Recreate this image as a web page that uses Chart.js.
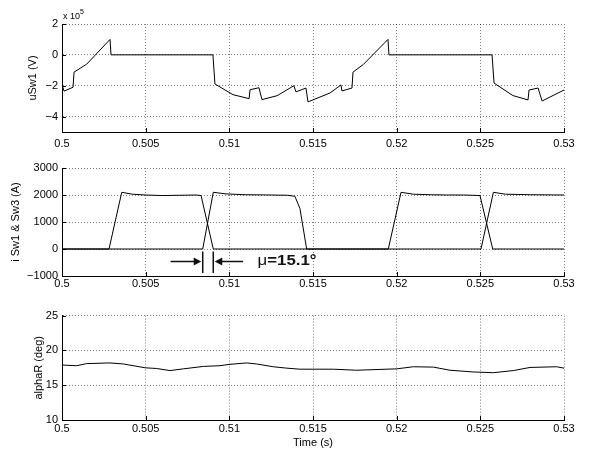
<!DOCTYPE html>
<html>
<head>
<meta charset="utf-8">
<script src="https://cdn.jsdelivr.net/npm/chart.js@4.4.1/dist/chart.umd.min.js"></script>
<style>
  body { margin: 0; background: #fff; }
  #wrap { position: relative; width: 602px; height: 460px; }
  canvas { position: absolute; left: 0; }
</style>
</head>
<body>
<div id="wrap">
  <canvas id="voltChart" width="602" height="155" style="top:0px"></canvas>
  <canvas id="currentChart" width="602" height="150" style="top:155px"></canvas>
  <canvas id="alphaChart" width="602" height="155" style="top:305px"></canvas>
</div>
<script>
// time axis (s)
var timeTicks = [0.5, 0.505, 0.51, 0.515, 0.52, 0.525, 0.53];
var timeTickLabels = ["0.5", "0.505", "0.51", "0.515", "0.52", "0.525", "0.53"];

// panel 1: uSw1 in units of 1e5 V
var tU = [0.5, 0.50012, 0.50066, 0.50072, 0.50148, 0.50287, 0.50293, 0.50902, 0.50914, 0.51022,
          0.51118, 0.51124, 0.51177, 0.51195, 0.51285, 0.51386, 0.51398, 0.51458, 0.51470, 0.51602,
          0.51667, 0.51673, 0.51733, 0.51739, 0.51801, 0.51948, 0.51954, 0.52570, 0.52582, 0.52695,
          0.52785, 0.52791, 0.52845, 0.52869, 0.53];
var uSw1 = [-1.9, -2.35, -2.1, -1.12, -0.6, 1.0, 0, 0, -1.89, -2.58,
            -2.84, -2.26, -2.13, -2.9, -2.65, -2.0, -2.4, -2.15, -3.05, -2.47,
            -1.95, -2.34, -2.15, -1.12, -0.62, 1.0, 0, 0, -1.83, -2.64,
            -2.92, -2.28, -2.15, -2.99, -2.28];
var uTicks = [-4, -2, 0, 2];
var uTickLabels = ["\u22124", "\u22122", "0", "2"];

// panel 2: switch currents (A)
var tSw1 = [0.5, 0.50281, 0.50357, 0.5042, 0.5050, 0.5060, 0.5070, 0.5080, 0.50831, 0.50904,
            0.51950, 0.52026, 0.5210, 0.5220, 0.5230, 0.5240, 0.52498, 0.52574, 0.53];
var iSw1 = [0, 0, 2100, 2030, 2000, 1980, 1990, 2000, 1980, 0,
            0, 2100, 2030, 2010, 2000, 2000, 1980, 0, 0];
var tSw3 = [0.5, 0.50841, 0.50904, 0.5098, 0.5110, 0.5125, 0.5135, 0.51392, 0.51422, 0.51462,
            0.52504, 0.52578, 0.5265, 0.5280, 0.53];
var iSw3 = [0, 0, 2100, 2040, 2010, 2000, 1990, 1950, 1500, 0,
            0, 2100, 2030, 2010, 2000];
var iTicks = [-1000, 0, 1000, 2000, 3000];
var iTickLabels = ["\u22121000", "0", "1000", "2000", "3000"];

// overlap (commutation) marker
var overlapStart = 0.50841;
var overlapEnd = 0.50904;
var muText = "15.1\u00b0";

// panel 3: alphaR (deg)
var tA = [0.5, 0.50088, 0.50147, 0.50287, 0.50367, 0.50498, 0.50566, 0.50645, 0.50725, 0.50845,
          0.50944, 0.51004, 0.51104, 0.51163, 0.51263, 0.51343, 0.51422, 0.51621, 0.51761, 0.52000,
          0.52100, 0.52219, 0.52319, 0.52458, 0.52578, 0.52697, 0.52797, 0.52956, 0.53];
var alphaR = [17.9, 17.8, 18.1, 18.2, 18.05, 17.5, 17.4, 17.1, 17.35, 17.7,
              17.8, 18.0, 18.2, 18.05, 17.65, 17.45, 17.3, 17.3, 17.15, 17.35,
              17.65, 17.6, 17.15, 16.9, 16.8, 17.1, 17.55, 17.65, 17.45];
var aTicks = [10, 15, 20, 25];
var aTickLabels = ["10", "15", "20", "25"];

var FONT = "'Liberation Sans', Arial, Helvetica, sans-serif";

function points(xs, ys) {
    return xs.map(function (x, i) { return { x: x, y: ys[i] }; });
}

function lineSet(xs, ys) {
    return {
        data: points(xs, ys),
        borderColor: "#000",
        borderWidth: 1,
        pointRadius: 0,
        tension: 0,
        fill: false
    };
}

// MATLAB style inward tick marks
var inwardTicks = {
    id: 'inwardTicks',
    afterDraw: function (chart) {
        var ctx = chart.ctx, a = chart.chartArea;
        var xs = chart.scales.x, ys = chart.scales.y;
        ctx.save();
        ctx.strokeStyle = "#000";
        ctx.lineWidth = 1;
        ctx.beginPath();
        xs.ticks.forEach(function (t) {
            var px = Math.round(xs.getPixelForValue(t.value)) + 0.5;
            ctx.moveTo(px, a.bottom);
            ctx.lineTo(px, a.bottom - 4);
        });
        ys.ticks.forEach(function (t) {
            var py = Math.round(ys.getPixelForValue(t.value)) + 0.5;
            ctx.moveTo(a.left, py);
            ctx.lineTo(a.left + 4, py);
        });
        ctx.stroke();
        ctx.restore();
    }
};

var exponentLabel = {
    id: 'exponentLabel',
    afterDraw: function (chart) {
        var ctx = chart.ctx, a = chart.chartArea;
        ctx.save();
        ctx.fillStyle = "#000";
        ctx.textBaseline = "alphabetic";
        ctx.font = "9px " + FONT;
        ctx.fillText("x 10", a.left + 1, a.top - 5);
        var w = ctx.measureText("x 10").width;
        ctx.font = "7px " + FONT;
        ctx.fillText("5", a.left + 1 + w, a.top - 10);
        ctx.restore();
    }
};

var overlapMarker = {
    id: 'overlapMarker',
    afterDatasetsDraw: function (chart) {
        var ctx = chart.ctx;
        var xs = chart.scales.x, ys = chart.scales.y;
        var x1 = xs.getPixelForValue(overlapStart);
        var x2 = xs.getPixelForValue(overlapEnd);
        var yTop = ys.getPixelForValue(-90);
        var yBot = ys.getPixelForValue(-890);
        var yMid = ys.getPixelForValue(-460);
        var leftFrom = xs.getPixelForValue(0.50649);
        var rightFrom = xs.getPixelForValue(0.51082);
        ctx.save();
        ctx.strokeStyle = "#111";
        ctx.fillStyle = "#111";
        ctx.lineWidth = 1.5;
        ctx.beginPath();
        ctx.moveTo(x1, yTop); ctx.lineTo(x1, yBot);
        ctx.moveTo(x2, yTop); ctx.lineTo(x2, yBot);
        ctx.moveTo(leftFrom, yMid); ctx.lineTo(x1 - 6, yMid);
        ctx.moveTo(rightFrom, yMid); ctx.lineTo(x2 + 6, yMid);
        ctx.stroke();
        ctx.beginPath();
        ctx.moveTo(x1 - 1.5, yMid); ctx.lineTo(x1 - 9, yMid - 4); ctx.lineTo(x1 - 9, yMid + 4); ctx.closePath();
        ctx.moveTo(x2 + 1.5, yMid); ctx.lineTo(x2 + 9, yMid - 4); ctx.lineTo(x2 + 9, yMid + 4); ctx.closePath();
        ctx.fill();

        // mu label
        var tx = xs.getPixelForValue(0.51169);
        ctx.translate(tx, yMid);
        ctx.scale(1.2, 1);
        ctx.textBaseline = "middle";
        ctx.font = "14px " + FONT;
        ctx.fillText("\u03bc", 0, 0);
        var w = ctx.measureText("\u03bc").width;
        ctx.font = "bold 14px " + FONT;
        ctx.fillText("=" + muText, w, 0);
        ctx.restore();
    }
};

function makeScales(o) {
    var xAxis = {
        type: 'linear',
        min: 0.5,
        max: 0.53,
        afterBuildTicks: function (s) { s.ticks = timeTicks.map(function (v) { return { value: v }; }); },
        afterFit: function (s) { s.height = o.xHeight; },
        ticks: {
            autoSkip: false,
            maxRotation: 0,
            padding: o.xPad,
            color: "#000",
            font: { family: FONT, size: 11 },
            callback: function (v, i) { return timeTickLabels[i]; }
        },
        grid: { color: "rgba(0,0,0,0.5)", lineWidth: 1, drawTicks: false },
        border: { display: true, color: "#000", width: 1, dash: [1, 2] },
        title: o.xTitle ? {
            display: true, text: o.xTitle, color: "#000",
            font: { family: FONT, size: 11 }, padding: { top: 0, bottom: 10 }
        } : { display: false }
    };
    var yAxis = {
        type: 'linear',
        min: o.yMin,
        max: o.yMax,
        afterBuildTicks: function (s) { s.ticks = o.yTicks.map(function (v) { return { value: v }; }); },
        afterFit: function (s) { s.width = 62; },
        ticks: {
            autoSkip: false,
            padding: 4,
            color: "#000",
            font: { family: FONT, size: 11 },
            callback: function (v, i) { return o.yLabels[i]; }
        },
        grid: { color: "rgba(0,0,0,0.5)", lineWidth: 1, drawTicks: false },
        border: { display: true, color: "#000", width: 1, dash: [1, 2] },
        title: {
            display: true, text: o.yTitle, color: "#000",
            font: { family: FONT, size: 11 }, padding: { top: o.yTitlePad, bottom: 0 }
        }
    };
    return { x: xAxis, y: yAxis };
}

function makePanel(id, datasets, o, plugins) {
    var ctx = document.getElementById(id).getContext('2d');
    return new Chart(ctx, {
        type: 'line',
        data: { datasets: datasets },
        options: {
            responsive: false,
            animation: false,
            parsing: true,
            layout: { padding: { left: 0, right: 38, top: o.padTop, bottom: 0 } },
            plugins: { legend: { display: false }, tooltip: { enabled: false } },
            scales: makeScales(o)
        },
        plugins: plugins
    });
}

makePanel('voltChart', [lineSet(tU, uSw1)], {
    yMin: -5, yMax: 2, yTicks: uTicks, yLabels: uTickLabels,
    yTitle: "uSw1 (V)", yTitlePad: 26, padTop: 24, xHeight: 23, xPad: 5
}, [inwardTicks, exponentLabel]);

makePanel('currentChart', [lineSet(tSw1, iSw1), lineSet(tSw3, iSw3)], {
    yMin: -1000, yMax: 3000, yTicks: iTicks, yLabels: iTickLabels,
    yTitle: "i Sw1 & Sw3 (A)", yTitlePad: 9, padTop: 13, xHeight: 29, xPad: 1
}, [inwardTicks, overlapMarker]);

makePanel('alphaChart', [lineSet(tA, alphaR)], {
    yMin: 10, yMax: 25, yTicks: aTicks, yLabels: aTickLabels,
    yTitle: "alphaR (deg)", yTitlePad: 32, padTop: 7, xHeight: 40, xPad: 2,
    xTitle: "Time (s)"
}, [inwardTicks]);
</script>
</body>
</html>
